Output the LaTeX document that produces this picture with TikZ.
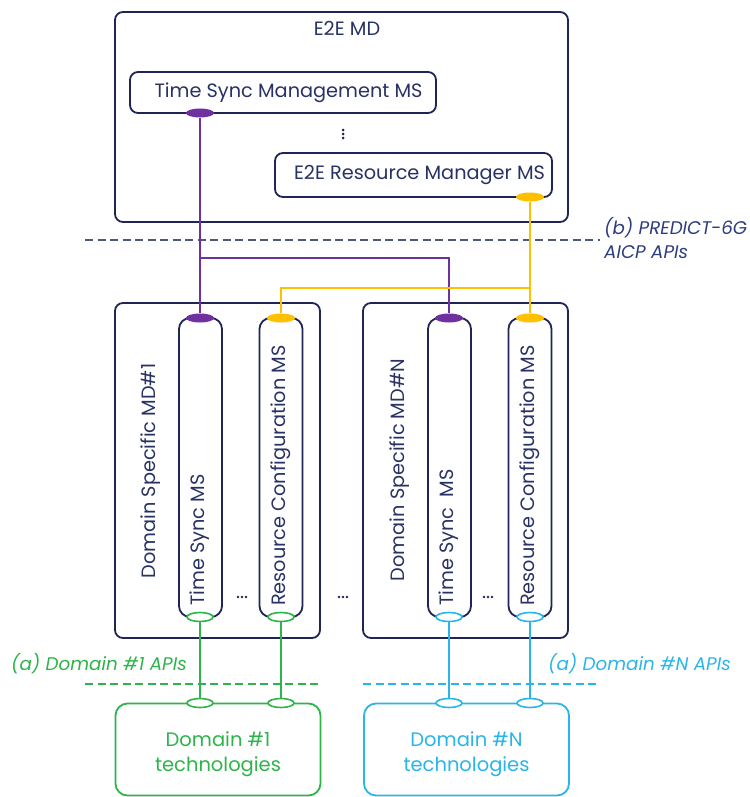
\documentclass[tikz,border=0pt]{standalone}
\usepackage{fontspec}
\setmainfont{Poppins}
\usetikzlibrary{shapes.geometric}

\definecolor{navy}{RGB}{31,37,84}
\definecolor{navytext}{RGB}{40,50,100}
\definecolor{apiblue}{RGB}{47,60,126}
\definecolor{dashgray}{RGB}{80,88,120}
\definecolor{tspurple}{RGB}{112,48,160}
\definecolor{rcyellow}{RGB}{255,192,0}
\definecolor{domgreen}{RGB}{45,180,75}
\definecolor{domcyan}{RGB}{41,181,234}

\tikzset{
  box/.style={draw=navy, line width=1.8pt, rounded corners=8pt, inner sep=0pt},
  msbox/.style={box, text=navytext, font=\fontsize{19.3}{22}\selectfont},
  capsule/.style={draw=navy, line width=1.8pt, rounded corners=11pt,
    minimum width=43pt, minimum height=299pt, inner sep=0pt},
  techbox/.style={line width=1.8pt, rounded corners=12pt, minimum width=205pt,
    minimum height=92pt, inner sep=0pt},
  techtext/.style={align=center, inner sep=0pt, font=\fontsize{19.5}{24.5}\selectfont},
  vtext/.style={rotate=90, text=navytext, font=\fontsize{19.3}{22}\selectfont, inner sep=0pt},
  plug/.style={ellipse, minimum width=28pt, minimum height=9pt, inner sep=0pt},
  socket/.style={ellipse, fill=white, line width=1.6pt, minimum width=26pt,
    minimum height=9pt, inner sep=0pt},
  link/.style={line width=1.6pt},
  apiline/.style={line width=1.2pt, dash pattern=on 8pt off 4.5pt},
  apilabel/.style={font=\fontsize{18.3}{22}\selectfont\itshape, inner sep=0pt, anchor=west},
  dotmark/.style={fill=navy, draw=none, circle, minimum size=3pt, inner sep=0pt},
}

\begin{document}
\begin{tikzpicture}[x=1pt, y=-1pt]
\useasboundingbox (0,0) rectangle (749,797);
\fill[white] (0,0) rectangle (749,797);

% ---------- E2E management domain ----------
\node[box, minimum width=453pt, minimum height=210pt] (e2e) at (341.5,117) {};
\node[text=navytext, font=\fontsize{19.3}{22}\selectfont] (e2etitle) at (347,28) {E2E MD};
\node[msbox, minimum width=306pt, minimum height=41pt] (tsm) at (283,92.5) {\hspace*{11pt}Time Sync Management MS};
\node[msbox, minimum width=277pt, minimum height=44pt] (rm) at (413.5,175) {\hspace*{12pt}E2E Resource Manager MS};
\foreach \i/\y in {1/130,2/134,3/138} \node[dotmark, minimum size=3pt] (vd\i) at (343,\y) {};

% ---------- AICP API boundary ----------
\coordinate (aicpL) at (85,240);
\coordinate (aicpR) at (600,240);
\draw[apiline, draw=dashgray] (aicpL) -- (aicpR);
\node[apilabel, text=apiblue] (aicp1) at (604,228) {(b) PREDICT-6G};
\node[apilabel, text=apiblue] (aicp2) at (604,252) {AICP APIs};

% ---------- domain specific management domains ----------
\node[box, minimum width=205pt, minimum height=335pt] (md1) at (217.5,470.5) {};
\node[box, minimum width=205pt, minimum height=335pt] (mdN) at (465.5,470.5) {};

\node[capsule] (ts1) at (200.5,467.5) {};
\node[capsule] (rc1) at (281,467.5) {};
\node[capsule] (tsN) at (449.5,467.5) {};
\node[capsule] (rcN) at (530,467.5) {};

\node[vtext] (md1lbl) at (151,471) {Domain Specific MD\#1};
\node[vtext] (mdNlbl) at (400,470) {Domain Specific MD\#N};
\node[vtext, anchor=west] (ts1lbl) at (200,606) {Time Sync MS};
\node[vtext, anchor=west] (rc1lbl) at (281,606) {Resource Configuration MS};
\node[vtext, anchor=west] (tsNlbl) at (449,606) {Time Sync\ \ MS};
\node[vtext, anchor=west] (rcNlbl) at (530,606) {Resource Configuration MS};

% horizontal ellipses between services and domains
\foreach \n/\x in {a/242,b/343,c/488}
  \foreach \k/\dx in {1/-4,2/0,3/4}
    \node[dotmark, minimum size=2.8pt] (hd\n\k) at (\x+\dx,597) {};

% ---------- AICP connections ----------
\node[plug, fill=tspurple] (ptsm) at (200,113) {};
\node[plug, fill=rcyellow] (prm) at (530,197) {};
\node[plug, fill=tspurple] (pts1) at (200,318) {};
\node[plug, fill=rcyellow] (prc1) at (281,318) {};
\node[plug, fill=tspurple] (ptsN) at (449,318) {};
\node[plug, fill=rcyellow] (prcN) at (530,318) {};

\coordinate (jts) at (200,258);
\coordinate (jrc) at (530,288);
\draw[link, tspurple] (ptsm) -- (pts1);
\draw[link, tspurple] (jts) -| (ptsN);
\draw[link, rcyellow] (prm) -- (prcN);
\draw[link, rcyellow] (jrc) -| (prc1);

% ---------- domain API boundaries ----------
\coordinate (d1L) at (85,684);
\coordinate (d1R) at (320,684);
\coordinate (dNL) at (363,684);
\coordinate (dNR) at (600,684);
\draw[apiline, draw=domgreen] (d1L) -- (d1R);
\draw[apiline, draw=domcyan] (dNL) -- (dNR);
\node[apilabel, text=domgreen] (api1) at (11,664) {(a) Domain \#1 APIs};
\node[apilabel, text=domcyan] (apiN) at (548,664) {(a) Domain \#N APIs};

% ---------- technology domains ----------
\node[techbox, draw=domgreen] (tech1) at (218,749.5) {};
\node[techbox, draw=domcyan] (techN) at (466.5,749.5) {};
\node[techtext, text=domgreen] (tech1lbl) at (218,754) {Domain \#1\\technologies};
\node[techtext, text=domcyan] (techNlbl) at (466.5,754) {Domain \#N\\technologies};

\node[socket, draw=domgreen] (sts1) at (200,617) {};
\node[socket, draw=domgreen] (src1) at (281,617) {};
\node[socket, draw=domcyan] (stsN) at (449,617) {};
\node[socket, draw=domcyan] (srcN) at (530,617) {};
\node[socket, draw=domgreen] (tts1) at (200,703) {};
\node[socket, draw=domgreen] (trc1) at (281,703) {};
\node[socket, draw=domcyan] (ttsN) at (449,703) {};
\node[socket, draw=domcyan] (trcN) at (530,703) {};

\draw[link, domgreen] (sts1) -- (tts1);
\draw[link, domgreen] (src1) -- (trc1);
\draw[link, domcyan] (stsN) -- (ttsN);
\draw[link, domcyan] (srcN) -- (trcN);
\end{tikzpicture}
\end{document}
